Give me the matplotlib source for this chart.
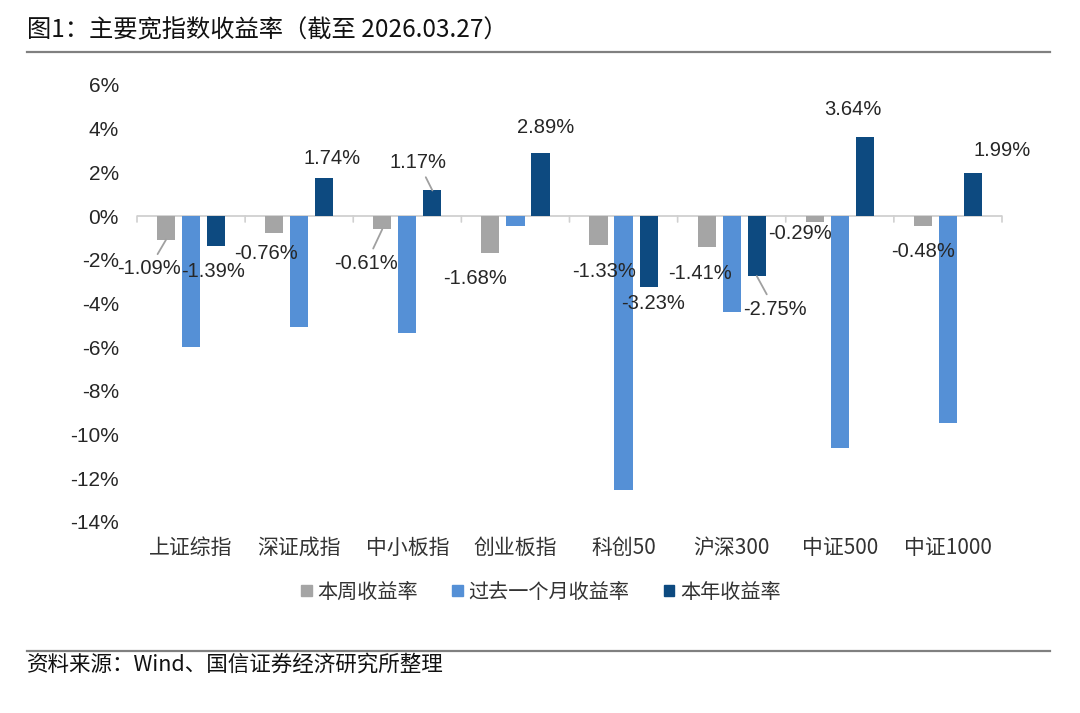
import matplotlib
matplotlib.use("Agg")
import matplotlib.pyplot as plt
from matplotlib.patches import Patch
import numpy as np

categories = ["上证综指", "深证成指", "中小板指", "创业板指", "科创50", "沪深300", "中证500", "中证1000"]
weekly = [-1.09, -0.76, -0.61, -1.68, -1.33, -1.41, -0.29, -0.48]
monthly = [-6.00, -5.08, -5.37, -0.46, -12.57, -4.40, -10.61, -9.48]
annual = [-1.39, 1.74, 1.17, 2.89, -3.23, -2.75, 3.64, 1.99]
series_names = ["本周收益率", "过去一个月收益率", "本年收益率"]
yticks = [6, 4, 2, 0, -2, -4, -6, -8, -10, -12, -14]

# label offsets in pixels (dx, dy; dy positive = up)
weekly_off = [(-17, -29), (-8, -21), (-16, -34), (-15, -26), (6, -26), (-7, -27), (-15, -11), (0, -25)]
annual_off = [(-3, -25), (8, 20), (-14, 28), (5, 25), (4, -17), (18, -33), (-12, 27), (29, 22)]
weekly_leader = [True, False, True, False, False, False, False, False]
annual_leader = [False, False, True, False, False, True, False, False]

c_week = "#A5A5A5"
c_month = "#5590D6"
c_year = "#0D4A80"

cjk = ["Noto Sans CJK SC", "DejaVu Sans"]
latin = ["Liberation Sans", "DejaVu Sans"]

fig = plt.figure(figsize=(10.8, 7.13), dpi=100)
W, H = 1080, 713
ax = fig.add_axes([137 / W, (H - 521.7) / H, 865 / W, (521.7 - 85) / H])

x = np.arange(len(categories))
bw = 0.168
off = 0.232
ax.bar(x - off, weekly, bw, color=c_week, zorder=3)
ax.bar(x, monthly, bw, color=c_month, zorder=3)
ax.bar(x + off, annual, bw, color=c_year, zorder=3)

ax.set_xlim(-0.5, len(categories) - 0.5)
ax.set_ylim(-14, 6)
ax.set_yticks(yticks)
ax.set_yticklabels([f"{t}%" for t in yticks], fontfamily=latin, fontsize=15, color="#262626")
ax.tick_params(axis="y", length=0, pad=13)
ax.set_xticks([])

for s in ["top", "right", "left", "bottom"]:
    ax.spines[s].set_visible(False)
ax.axhline(0, color="#D0D0D0", lw=1.3, zorder=2)
for b in np.arange(-0.5, len(categories), 1.0):
    ax.annotate("", xy=(b, 0), xytext=(0, -6), textcoords="offset pixels",
                arrowprops=dict(arrowstyle="-", color="#D0D0D0", lw=1.2, shrinkA=0, shrinkB=0))

def put_labels(vals, offs, leaders, dxbar):
    for i, v in enumerate(vals):
        dx, dy = offs[i]
        ap = None
        if leaders[i]:
            ap = dict(arrowstyle="-", color="#A0A0A0", lw=1.3, shrinkA=2, shrinkB=0)
        ax.annotate(f"{v:.2f}%", xy=(i + dxbar, v), xytext=(dx, dy), textcoords="offset pixels",
                    ha="center", va="center", fontsize=14.5, fontfamily=latin, color="#262626",
                    arrowprops=ap, zorder=5)

put_labels(weekly, weekly_off, weekly_leader, -off)
put_labels(annual, annual_off, annual_leader, off)

for i, c in enumerate(categories):
    t = ax.text(i, -15.2, c, ha="center", va="center",
                fontfamily=cjk, fontsize=15, color="#333333")
    t.set_clip_on(False)

handles = [Patch(color=c_week), Patch(color=c_month), Patch(color=c_year)]
leg = fig.legend(handles, series_names, loc="center", bbox_to_anchor=(541 / W, 1 - 592 / H),
                 ncol=3, frameon=False, prop={"family": cjk, "size": 14.5},
                 handlelength=0.5, handleheight=0.5, handletextpad=0.3, columnspacing=1.7)
for t in leg.get_texts():
    t.set_color("#333333")

fig.text(27 / W, 1 - 30 / H, "图1：主要宽指数收益率（截至 2026.03.27）", fontfamily=cjk,
         fontsize=17.5, ha="left", va="center", color="#111111")
fig.add_artist(plt.Line2D([27 / W, 1050 / W], [1 - 52 / H, 1 - 52 / H], color="#808080", lw=1.6))
fig.add_artist(plt.Line2D([27 / W, 1050 / W], [1 - 651 / H, 1 - 651 / H], color="#808080", lw=1.6))
fig.text(27 / W, 1 - 665 / H, "资料来源：Wind、国信证券经济研究所整理", fontfamily=cjk,
         fontsize=15.5, ha="left", va="center", color="#111111")

fig.savefig("out.png", dpi=100)
